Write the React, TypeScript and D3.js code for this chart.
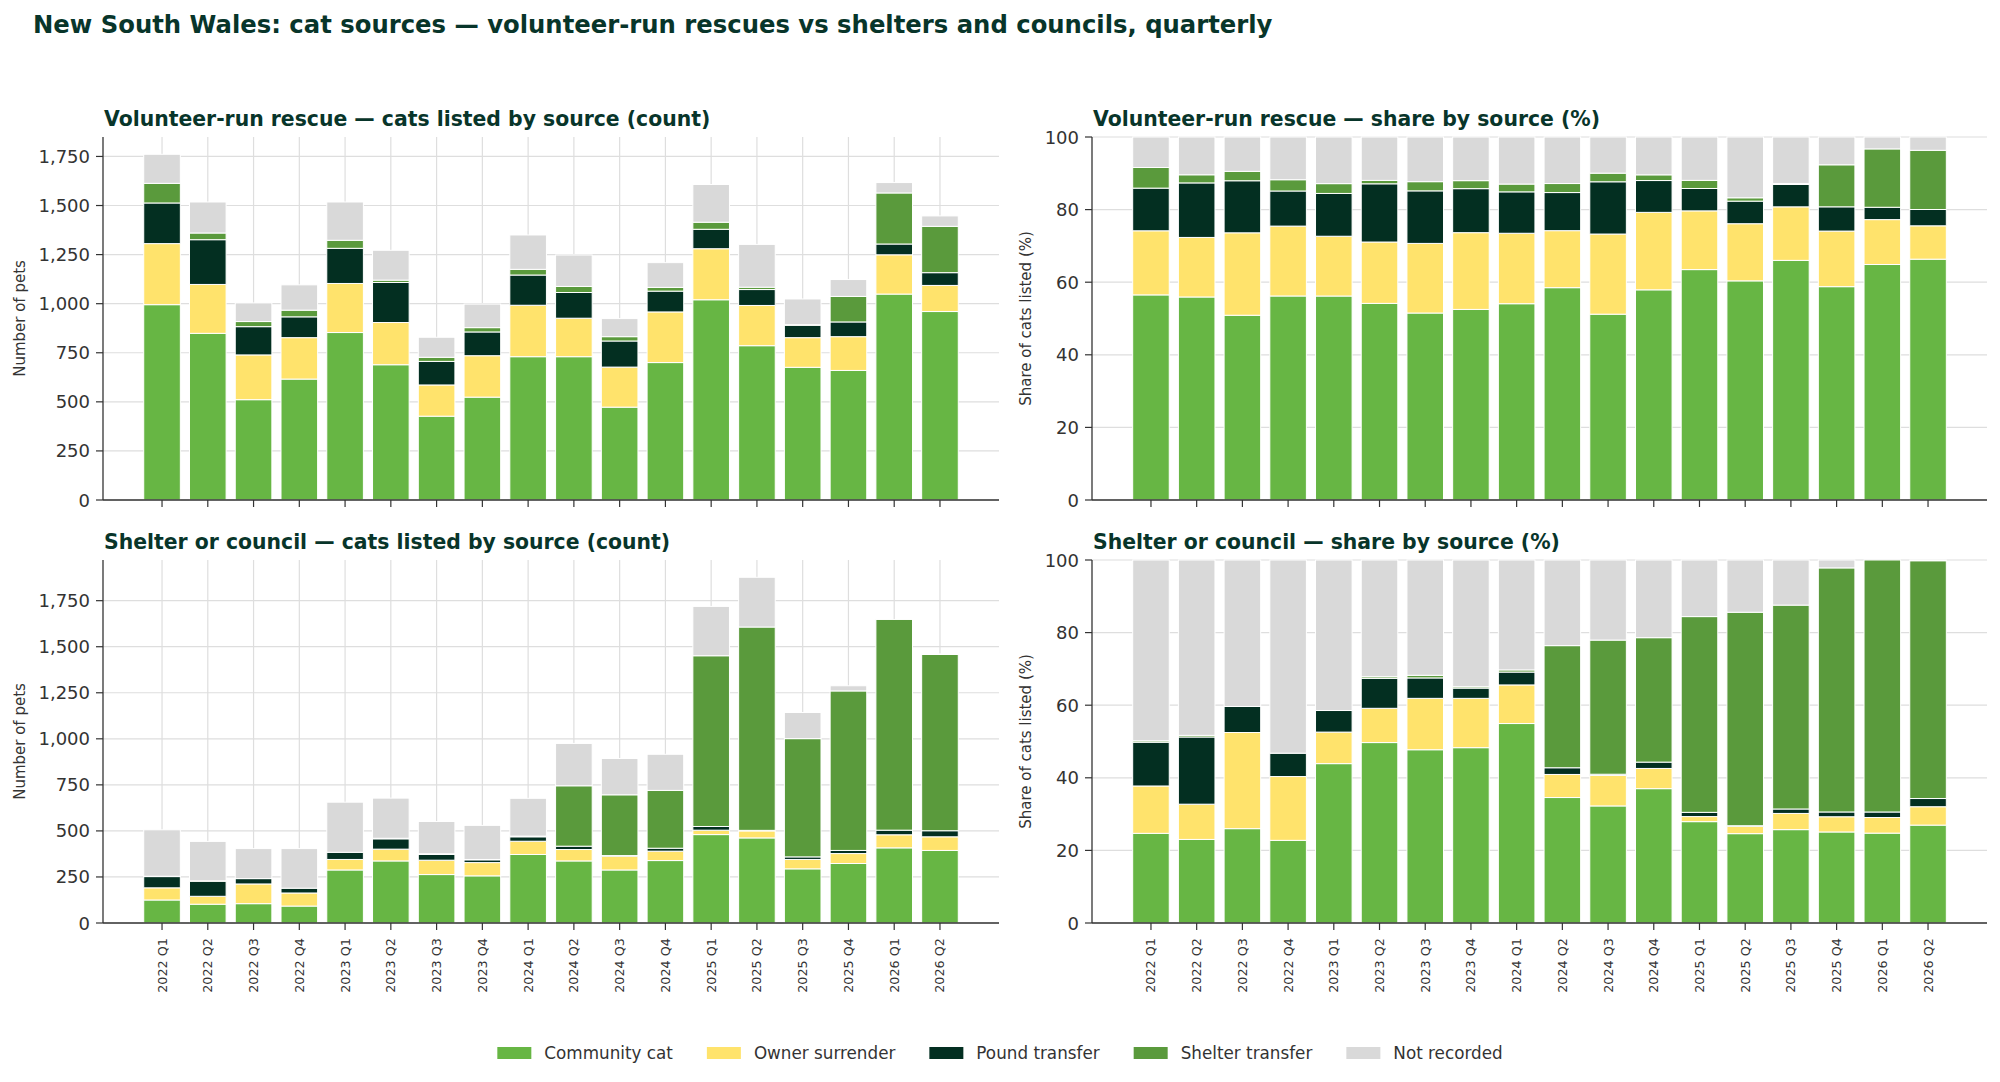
import React from 'react';
import * as d3 from 'd3';

// quarterly cat listings, NSW
const QUARTERS = [
  '2022 Q1', '2022 Q2', '2022 Q3', '2022 Q4',
  '2023 Q1', '2023 Q2', '2023 Q3', '2023 Q4',
  '2024 Q1', '2024 Q2', '2024 Q3', '2024 Q4',
  '2025 Q1', '2025 Q2', '2025 Q3', '2025 Q4',
  '2026 Q1', '2026 Q2',
];

const SOURCES = ['Community cat', 'Owner surrender', 'Pound transfer', 'Shelter transfer', 'Not recorded'];
const SOURCE_COLORS = ['#67b644', '#ffe36c', '#032f21', '#5a9a3c', '#d9d9d9'];

// volunteer-run rescues (counts)
const rescueCommunity = [995, 849, 511, 616, 853, 689, 427, 524, 730, 730, 473, 700, 1020, 786, 676, 660, 1049, 960];
const rescueOwner = [311, 249, 228, 211, 250, 215, 159, 211, 262, 196, 204, 258, 260, 205, 151, 172, 200, 133];
const rescuePound = [207, 228, 144, 106, 179, 204, 120, 121, 154, 131, 133, 106, 99, 81, 63, 75, 55, 65];
const rescueShelter = [100, 34, 26, 34, 41, 12, 21, 22, 29, 31, 22, 19, 36, 12, 3, 130, 260, 236];
const rescueNotRecorded = [148, 158, 95, 129, 195, 152, 102, 120, 175, 160, 92, 126, 192, 218, 131, 86, 53, 53];

// shelters and councils (counts)
const shelterCommunity = [125, 102, 105, 92, 288, 337, 263, 256, 372, 337, 288, 339, 480, 462, 294, 323, 408, 394];
const shelterOwner = [66, 43, 107, 71, 57, 64, 78, 72, 72, 62, 75, 51, 24, 38, 51, 54, 71, 74];
const shelterPound = [61, 82, 29, 26, 39, 56, 31, 15, 24, 18, 3, 16, 20, 3, 14, 17, 25, 33];
const shelterShelter = [2, 2, 0, 0, 0, 3, 4, 2, 4, 328, 330, 314, 927, 1104, 642, 866, 1144, 957];
const shelterNotRecorded = [252, 214, 163, 215, 272, 218, 175, 185, 205, 230, 197, 196, 268, 270, 142, 28, 0, 3];

const FONT = '"DejaVu Sans", sans-serif';
const INK = '#333333';
const TITLE_INK = '#08352a';
const GRID = '#dedede';

type Row = { [k: string]: number };

function buildRows(cols: number[][]): Row[] {
  return QUARTERS.map((_, i) => {
    const r: Row = {};
    SOURCES.forEach((s, j) => { r[s] = cols[j][i]; });
    return r;
  });
}

function toShare(rows: Row[]): Row[] {
  return rows.map(r => {
    const total = d3.sum(SOURCES, s => r[s]);
    const out: Row = {};
    SOURCES.forEach(s => { out[s] = total ? (r[s] / total) * 100 : 0; });
    return out;
  });
}

interface PanelProps {
  title: string;
  rows: Row[];
  share: boolean;
  left: number;
  top: number;
  width: number;
  height: number;
  yLabel: string;
  yLabelOffset: number;
  showXLabels: boolean;
}

const StackedPanel: React.FC<PanelProps> = ({ title, rows, share, left, top, width, height, yLabel, yLabelOffset, showXLabels }) => {
  const n = QUARTERS.length;
  const pad = 0.05 * (n - 1 + 0.8); // matplotlib-ish margins
  const x = d3.scaleLinear().domain([-0.4 - pad, n - 1 + 0.4 + pad]).range([left, left + width]);
  const bottom = top + height;

  const totals = rows.map(r => d3.sum(SOURCES, s => r[s]));
  const yMax = share ? 100 : (d3.max(totals) || 1) * 1.05;
  const y = d3.scaleLinear().domain([0, yMax]).range([bottom, top]);
  const yTicks = share ? d3.range(0, 101, 20) : d3.range(0, yMax, 250);
  const fmt = share ? d3.format('d') : d3.format(',');

  const series = d3.stack<Row>().keys(SOURCES)(rows);
  const bw = x(0.4) - x(-0.4);

  return (
    <g>
      <text x={left + 1} y={top - 11} fontFamily={FONT} fontSize={20.4} fontWeight="bold" fill={TITLE_INK}>{title}</text>

      {/* grid */}
      {yTicks.map(t => (
        <line key={'gy' + t} x1={left} x2={left + width} y1={y(t)} y2={y(t)} stroke={GRID} strokeWidth={1.2} />
      ))}
      {QUARTERS.map((q, i) => (
        <line key={'gx' + q} x1={x(i)} x2={x(i)} y1={top} y2={bottom} stroke={GRID} strokeWidth={1.2} />
      ))}

      {/* bars */}
      {series.map((s, j) => (
        <g key={s.key} fill={SOURCE_COLORS[j]}>
          {s.map((d, i) => {
            const h = y(d[0]) - y(d[1]);
            if (h <= 0) return null;
            return (
              <rect key={i} x={x(i) - bw / 2} y={y(d[1])} width={bw} height={h} stroke="#ffffff" strokeWidth={1} />
            );
          })}
        </g>
      ))}

      {/* axes */}
      <line x1={left} x2={left} y1={top} y2={bottom} stroke={INK} strokeWidth={1.3} />
      <line x1={left} x2={left + width} y1={bottom} y2={bottom} stroke={INK} strokeWidth={1.6} />
      {yTicks.map(t => (
        <g key={'ty' + t}>
          <line x1={left - 7} x2={left} y1={y(t)} y2={y(t)} stroke={INK} strokeWidth={1.2} />
          <text x={left - 13} y={y(t)} textAnchor="end" dominantBaseline="central" fontFamily={FONT} fontSize={18} fill={INK}>{fmt(t)}</text>
        </g>
      ))}
      {QUARTERS.map((q, i) => (
        <g key={'tx' + q}>
          <line x1={x(i)} x2={x(i)} y1={bottom} y2={bottom + 7} stroke={INK} strokeWidth={1.2} />
          {showXLabels && (
            <text
              transform={`translate(${x(i)},${bottom + 15}) rotate(-90)`}
              textAnchor="end"
              dominantBaseline="central"
              fontFamily={FONT}
              fontSize={12.8}
              fill={INK}
            >{q}</text>
          )}
        </g>
      ))}
      <text
        transform={`translate(${left - yLabelOffset},${(top + bottom) / 2}) rotate(-90)`}
        textAnchor="middle"
        dominantBaseline="central"
        fontFamily={FONT}
        fontSize={15}
        fill={INK}
      >{yLabel}</text>
    </g>
  );
};

function measure(text: string, font: string): number {
  const c = document.createElement('canvas').getContext('2d');
  if (!c) return text.length * 9;
  c.font = font;
  return c.measureText(text).width;
}

const Legend: React.FC<{ cx: number; cy: number }> = ({ cx, cy }) => {
  const fs = 16.8;
  const patchW = 34, patchH = 12, gap = 13, colGap = 34;
  const widths = SOURCES.map(s => measure(s, `${fs}px "DejaVu Sans"`));
  const itemW = widths.map(w => patchW + gap + w);
  const total = d3.sum(itemW) + colGap * (SOURCES.length - 1);
  let cursor = cx - total / 2;
  const items = SOURCES.map((s, i) => {
    const x0 = cursor;
    cursor += itemW[i] + colGap;
    return { s, x0, color: SOURCE_COLORS[i] };
  });
  return (
    <g>
      {items.map(it => (
        <g key={it.s}>
          <rect x={it.x0} y={cy - patchH / 2} width={patchW} height={patchH} fill={it.color} />
          <text x={it.x0 + patchW + gap} y={cy} dominantBaseline="central" fontFamily={FONT} fontSize={fs} fill={INK}>{it.s}</text>
        </g>
      ))}
    </g>
  );
};

export default function App() {
  const rescueRows = buildRows([rescueCommunity, rescueOwner, rescuePound, rescueShelter, rescueNotRecorded]);
  const shelterRows = buildRows([shelterCommunity, shelterOwner, shelterPound, shelterShelter, shelterNotRecorded]);

  const colL = { left: 103, width: 896 };
  const colR = { left: 1092, width: 895 };
  const rowT = { top: 137, height: 363 };
  const rowB = { top: 560, height: 363 };

  return (
    <div style={{ position: 'absolute', left: 0, top: 0 }}>
      <svg width={2000} height={1082} style={{ display: 'block', background: '#ffffff' }}>
        <text x={33} y={33} fontFamily={FONT} fontSize={24.3} fontWeight="bold" fill={TITLE_INK}>
          New South Wales: cat sources — volunteer-run rescues vs shelters and councils, quarterly
        </text>

        <StackedPanel title="Volunteer-run rescue — cats listed by source (count)" rows={rescueRows} share={false}
          {...colL} {...rowT} yLabel="Number of pets" yLabelOffset={83} showXLabels={false} />
        <StackedPanel title="Volunteer-run rescue — share by source (%)" rows={toShare(rescueRows)} share={true}
          {...colR} {...rowT} yLabel="Share of cats listed (%)" yLabelOffset={66} showXLabels={false} />
        <StackedPanel title="Shelter or council — cats listed by source (count)" rows={shelterRows} share={false}
          {...colL} {...rowB} yLabel="Number of pets" yLabelOffset={83} showXLabels={true} />
        <StackedPanel title="Shelter or council — share by source (%)" rows={toShare(shelterRows)} share={true}
          {...colR} {...rowB} yLabel="Share of cats listed (%)" yLabelOffset={66} showXLabels={true} />

        <Legend cx={1000} cy={1053} />
      </svg>
    </div>
  );
}
